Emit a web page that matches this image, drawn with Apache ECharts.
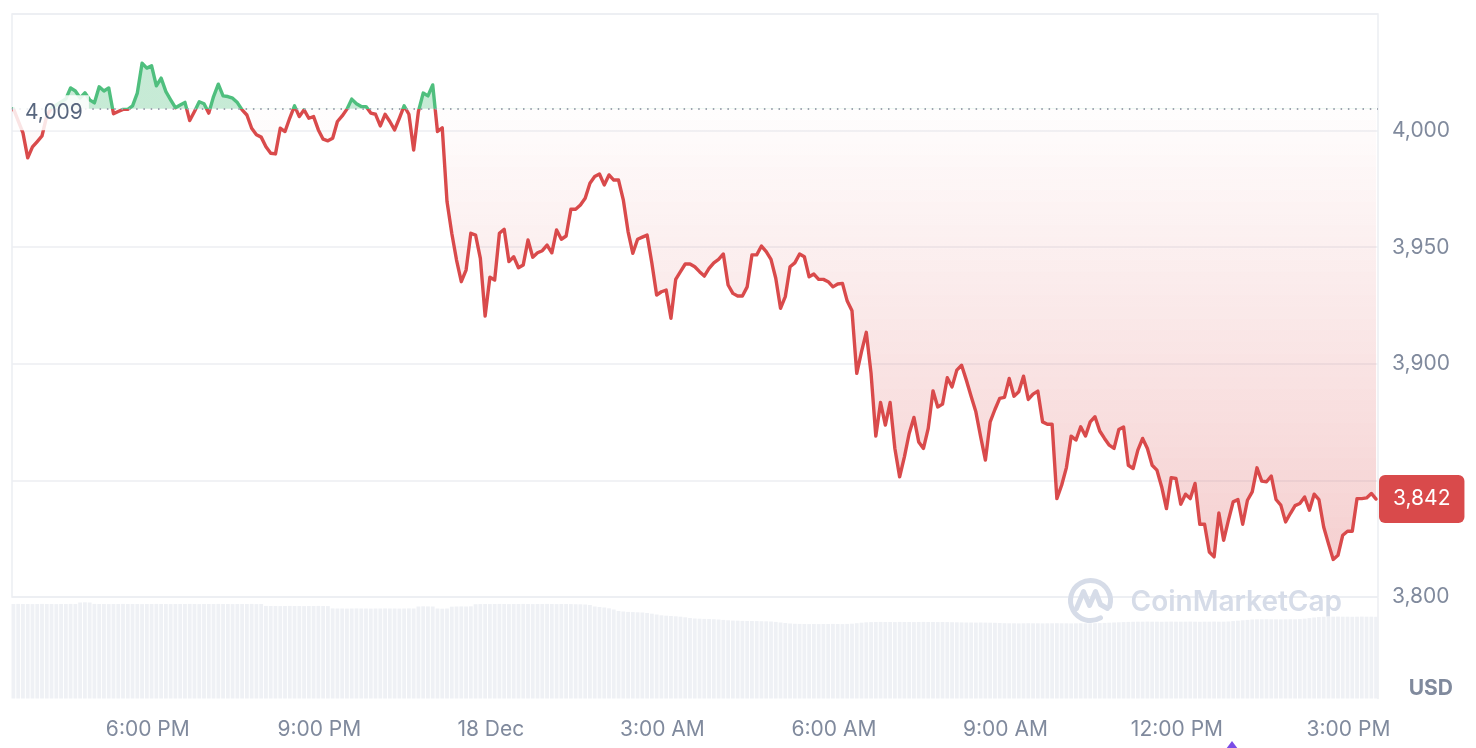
<!DOCTYPE html>
<html>
<head>
<meta charset="utf-8">
<script src="https://cdn.jsdelivr.net/npm/echarts@6/dist/echarts.min.js"></script>
<style>
html,body{margin:0;padding:0;background:#ffffff;}
#chart{width:1476px;height:748px;}
</style>
</head>
<body>
<div id="chart"></div>
<script>
// ---- data ----
// time is counted in minutes from 17 Dec 00:00; first sample at 15:39, every 5 minutes
const startMinute = 15 * 60 + 39;
const stepMinutes = 5;
const startDay = 17;
const monthName = 'Dec';

const prices = [
  4009.4, 4004.2, 3999.0, 3988.3, 3993.0, 3995.3, 3997.7, 4006.3, 4009.7, 4011.0,
  4012.3, 4013.6, 4018.3, 4017.0, 4014.0, 4016.2, 4013.2, 4011.9, 4018.8, 4017.0,
  4018.3, 4007.2, 4008.2, 4009.1, 4009.1, 4010.6, 4016.1, 4028.9, 4026.8, 4027.8,
  4019.2, 4022.5, 4016.7, 4013.2, 4009.8, 4011.0, 4012.1, 4004.3, 4008.2, 4012.4,
  4011.5, 4007.5, 4014.6, 4019.9, 4014.9, 4014.6, 4013.9, 4012.0, 4008.9, 4006.7,
  4001.0, 3998.2, 3997.2, 3993.1, 3990.3, 3990.0, 4001.0, 3999.6, 4005.4, 4010.6,
  4006.0, 4008.9, 4005.3, 4006.0, 4000.3, 3996.3, 3995.6, 3996.7, 4003.9, 4006.3,
  4009.2, 4013.5, 4011.5, 4010.3, 4010.3, 4007.5, 4007.0, 4002.0, 4007.0, 4003.9,
  4000.3, 4005.3, 4010.6, 4007.0, 3991.7, 4008.2, 4016.1, 4014.9, 4019.6, 3999.6,
  4001.2, 3969.6, 3956.0, 3944.5, 3935.2, 3940.2, 3956.0, 3955.2, 3945.2, 3920.5,
  3937.1, 3935.9, 3956.0, 3957.7, 3943.8, 3945.9, 3941.2, 3942.4, 3953.1, 3945.7,
  3947.6, 3948.5, 3950.9, 3947.6, 3957.4, 3953.4, 3954.8, 3966.3, 3966.3, 3968.1,
  3971.0, 3977.4, 3980.3, 3981.4, 3976.7, 3981.0, 3978.8, 3978.8, 3970.3, 3956.7,
  3947.4, 3953.4, 3954.3, 3955.2, 3943.1, 3929.5, 3930.9, 3931.6, 3919.5, 3936.2,
  3939.5, 3942.8, 3942.8, 3941.6, 3939.5, 3937.6, 3940.9, 3943.3, 3944.8, 3947.1,
  3933.8, 3930.2, 3929.1, 3929.1, 3933.0, 3946.7, 3946.7, 3950.5, 3948.1, 3944.8,
  3936.7, 3923.8, 3928.8, 3941.6, 3943.3, 3947.1, 3945.9, 3937.3, 3938.5, 3936.2,
  3936.2, 3935.2, 3933.0, 3934.2, 3934.5, 3926.9, 3922.7, 3895.9, 3905.2, 3913.5,
  3895.9, 3869.0, 3883.4, 3873.7, 3883.4, 3863.7, 3851.5, 3860.1, 3870.1, 3877.0,
  3866.5, 3863.7, 3872.3, 3888.4, 3881.5, 3882.7, 3894.0, 3890.1, 3897.3, 3899.4,
  3893.0, 3886.1, 3879.4, 3868.7, 3858.7, 3875.1, 3880.4, 3885.2, 3885.6, 3893.7,
  3886.1, 3888.0, 3894.7, 3884.7, 3887.0, 3888.3, 3875.1, 3874.1, 3874.1, 3842.2,
  3847.9, 3855.5, 3869.0, 3867.3, 3873.0, 3869.0, 3875.1, 3877.3, 3871.2, 3868.0,
  3865.1, 3863.7, 3871.8, 3872.9, 3856.5, 3855.1, 3863.0, 3868.0, 3863.7, 3856.5,
  3854.4, 3847.2, 3837.9, 3851.2, 3850.8, 3839.8, 3844.1, 3842.2, 3848.7, 3831.2,
  3831.2, 3819.3, 3817.2, 3836.0, 3824.3, 3832.9, 3840.8, 3841.8, 3831.2, 3841.5,
  3845.1, 3855.4, 3849.7, 3849.4, 3851.9, 3841.8, 3839.4, 3832.2, 3835.8, 3839.2,
  3840.1, 3842.9, 3837.2, 3844.1, 3841.8, 3830.0, 3822.9, 3816.1, 3817.9, 3826.5,
  3828.2, 3828.2, 3842.2, 3842.2, 3842.5, 3844.4, 3842.0
];

// volume (relative index units, 0-100)
const volumes = [
  94.5, 94.6, 94.5, 94.5, 94.4, 94.5, 94.6, 94.5, 94.5, 94.4, 94.5, 94.5, 94.6, 94.5,
  96.0, 96.2, 96.0,
  94.6, 94.5, 94.5, 94.4, 94.5, 94.5, 94.6, 94.5, 94.5, 94.5, 94.4, 94.5,
  94.5, 94.6, 94.5, 94.5, 94.4, 94.5, 94.5, 94.5, 94.6, 94.5, 94.4, 94.5,
  94.5, 94.5, 94.6, 94.5, 94.5, 94.4, 94.5, 94.5, 94.5, 94.6, 94.4, 94.5,
  92.6, 92.5, 92.5, 92.4, 92.5, 92.6, 92.5, 92.5, 92.4, 92.5, 92.5, 92.6, 92.5, 92.4,
  90.1, 90.0, 90.0, 89.9, 90.0, 90.1, 90.0, 90.0, 89.9, 90.0, 90.0, 90.1, 90.0, 90.0, 89.9, 90.0, 90.1, 90.0,
  92.0, 92.2, 92.1, 92.0,
  90.0, 89.8, 90.0,
  91.8, 92.0, 92.1, 92.0, 92.2,
  94.3, 94.4, 94.5, 94.4, 94.5, 94.6, 94.5, 94.4, 94.5, 94.5,
  94.6, 94.5, 94.4, 94.5, 94.5, 94.6, 94.5, 94.4, 94.5, 94.5,
  94.4, 94.3, 94.2, 94.0, 93.5,
  92.0, 91.5, 91.0, 90.2, 89.0,
  87.5, 87.0, 86.6, 86.4, 86.2, 86.0, 85.5, 84.8, 84.0,
  83.2, 82.8, 82.5, 82.2, 81.8, 81.2, 80.5,
  80.0, 79.8, 79.6, 79.5, 79.3, 79.0, 78.6, 78.2,
  77.9, 77.8, 77.6, 77.5, 77.5, 77.4, 77.3, 77.2, 77.0, 76.6, 76.0, 75.5, 75.0,
  74.7, 74.6, 74.5, 74.4, 74.5, 74.4, 74.5, 74.5, 74.6, 74.5, 74.4, 74.6, 74.8, 75.3, 75.8, 76.2,
  76.4, 76.5, 76.6, 76.5, 76.5, 76.4, 76.6, 76.5, 76.5, 76.4,
  76.5, 76.6, 76.5, 76.5, 76.4, 76.5, 76.4, 76.3, 76.2,
  76.1, 76.0, 76.0, 75.9, 76.0, 75.9, 75.8, 75.7, 75.5,
  75.3, 75.2, 75.2, 75.1, 75.2, 75.3, 75.2, 75.2, 75.1, 75.2,
  75.2, 75.3, 75.2, 75.2, 75.1, 75.2, 75.3, 75.2, 75.2, 75.3,
  75.4, 75.6, 75.8, 76.0, 76.2, 76.4,
  76.6, 76.7, 76.8, 76.8, 76.9, 76.8, 76.8, 76.7, 76.8, 76.9,
  76.8, 76.8, 76.8, 76.9, 76.8, 76.7, 76.8, 76.8, 76.9, 76.8,
  76.8, 77.0, 77.4, 77.8, 78.2, 78.6,
  79.0, 79.2, 79.2, 79.3, 79.2, 79.2, 79.1, 79.2, 79.3, 79.2, 79.4, 79.8, 80.4, 81.0,
  81.5, 81.7, 81.8, 81.8, 81.9, 81.8, 81.8, 81.7, 81.8, 81.9, 81.8, 81.8, 81.7
];

const priceTicks = [3800, 3850, 3900, 3950, 4000, 4050];
const labelEveryMinutes = 180;     // x labels every 3 hours
const tickStepMinutes = 7.5;       // fine tick grid so that axis min is a multiple of it
const currencyLabel = 'USD';
const watermarkText = 'CoinMarketCap';

// ---- derived ----
const minutes = prices.map((_, i) => startMinute + i * stepMinutes);
const priceData = minutes.map((m, i) => [m, prices[i]]);
const volData = minutes.map((m, i) => [m, volumes[i]]);
const baseline = prices[0];
const lastPrice = prices[prices.length - 1];
const xMin = minutes[0] - 1.5;                      // 937.5 = 125 * 7.5
const xMax = minutes[minutes.length - 1] + 2;

const RED = '#d94a4b';
const GREEN = '#4fbf7e';
const AXIS_TXT = '#808a9d';
const GRID_LINE = '#eceef2';
const WM = '#d6dce8';
const fmt = v => Math.round(v).toLocaleString('en-US');
// axis labels that would sit under the current-price tag are hidden
const fmtPriceAxis = v => (Math.abs(v - lastPrice) < 12 ? '' : fmt(v));
const fmtTime = function (v) {
  const r = v % labelEveryMinutes;
  if (Math.abs(r) > 0.01 && Math.abs(r - labelEveryMinutes) > 0.01) return '';
  const m = Math.round(v);
  const h = Math.floor(m / 60) % 24;
  if (h === 0) return (startDay + Math.floor(m / 1440)) + ' ' + monthName;
  const h12 = h % 12 || 12;
  return h12 + ':00 ' + (h < 12 ? 'AM' : 'PM');
};

// area colouring: green above baseline, red gradient (darker further below baseline)
const lowest = Math.min.apply(null, prices);
const span = baseline - lowest;
const areaPieces = [{ gt: baseline, lte: baseline + 500, color: 'rgba(79,191,126,0.32)' }];
for (let k = 0; k < 50; k++) {
  const hi = baseline - 5 * k;
  const lo = k < 49 ? hi - 5 : baseline - 1000;
  const mid = hi - 2.5;
  const a = 0.01 + 0.25 * Math.min(1, (baseline - mid) / span);
  areaPieces.push({ gt: lo, lte: hi, color: 'rgba(217,74,75,' + a.toFixed(3) + ')' });
}
const linePieces = [
  { gt: baseline, lte: baseline + 500, color: GREEN },
  { gt: baseline - 1000, lte: baseline, color: RED }
];

const chart = echarts.init(document.getElementById('chart'), null, { renderer: 'canvas' });

const option = {
  animation: false,
  backgroundColor: '#ffffff',
  textStyle: { fontFamily: 'Inter, Roboto, sans-serif' },
  grid: [
    { left: 12, right: 98, top: 14, bottom: 151, show: true, borderColor: GRID_LINE, borderWidth: 1.5, backgroundColor: 'transparent' },
    { left: 12, right: 98, top: 598.5, bottom: 49.5 }
  ],
  xAxis: [
    { type: 'value', gridIndex: 0, min: xMin, max: xMax, interval: tickStepMinutes, show: false, splitLine: { show: false } },
    {
      type: 'value', gridIndex: 1, min: xMin, max: xMax, interval: tickStepMinutes,
      axisLine: { show: false }, axisTick: { show: false }, splitLine: { show: false },
      axisLabel: {
        color: AXIS_TXT, fontSize: 21, margin: 21, fontFamily: 'Inter',
        hideOverlap: false, formatter: fmtTime
      }
    }
  ],
  yAxis: [
    {
      type: 'value', gridIndex: 0, position: 'right',
      min: priceTicks[0], max: priceTicks[priceTicks.length - 1], interval: priceTicks[1] - priceTicks[0],
      axisLine: { show: false }, axisTick: { show: false },
      splitLine: { show: true, lineStyle: { color: GRID_LINE, width: 1.5 } },
      axisLabel: { color: AXIS_TXT, fontSize: 21, margin: 14, fontFamily: 'Inter', showMaxLabel: false, formatter: fmtPriceAxis }
    },
    {
      type: 'value', gridIndex: 1, position: 'right', min: 0, max: 100,
      axisLine: { show: true, lineStyle: { color: GRID_LINE, width: 1.5 } },
      axisTick: { show: false }, axisLabel: { show: false }, splitLine: { show: false }
    }
  ],
  visualMap: [
    { type: 'piecewise', show: false, seriesIndex: 1, dimension: 1, pieces: areaPieces },
    { type: 'piecewise', show: false, seriesIndex: 2, dimension: 1, pieces: linePieces }
  ],
  series: [
    {
      name: 'Volume', type: 'bar', xAxisIndex: 1, yAxisIndex: 1, data: volData,
      barWidth: 3.8, itemStyle: { color: '#eff1f5' }, silent: true, z: 1
    },
    {
      name: 'Area', type: 'line', xAxisIndex: 0, yAxisIndex: 0, data: priceData,
      symbol: 'none', lineStyle: { opacity: 0 }, areaStyle: { origin: baseline, opacity: 1 },
      silent: true, z: 2,
      markLine: {
        symbol: ['none', 'none'], silent: true, animation: false,
        label: { show: false },
        data: [{ yAxis: baseline, lineStyle: { color: '#9ea5b1', type: [1.5, 5.8], width: 1.8, opacity: 1 } }]
      }
    },
    {
      name: 'Price', type: 'line', xAxisIndex: 0, yAxisIndex: 0, data: priceData,
      symbol: 'none', lineStyle: { width: 3.4, join: 'round', cap: 'round' }, z: 3
    }
  ]
};

chart.setOption(option);

// labels anchored through the chart's own scales
const yBase = chart.convertToPixel({ yAxisIndex: 0 }, baseline);
const yLast = chart.convertToPixel({ yAxisIndex: 0 }, lastPrice);
const xLeft = chart.convertToPixel({ xAxisIndex: 0 }, xMin);
const xRight = chart.convertToPixel({ xAxisIndex: 0 }, xMax);

chart.setOption({
  graphic: [
    {
      type: 'text', z: 100, silent: true, x: xLeft + 1, y: yBase + 4,
      style: {
        text: fmt(baseline), font: '21px Inter', fill: '#58667e',
        backgroundColor: 'rgba(255,255,255,0.85)', padding: [7, 6, 7, 12],
        align: 'left', verticalAlign: 'middle'
      }
    },
    {
      type: 'text', z: 100, silent: true, x: xRight + 1, y: yLast,
      style: {
        text: fmt(lastPrice), font: '21px Inter', fill: '#ffffff',
        backgroundColor: RED, padding: [14, 14, 13, 14], borderRadius: 6,
        align: 'left', verticalAlign: 'middle'
      }
    },
    {
      type: 'text', right: 23, top: 678, z: 10,
      style: { text: currencyLabel, font: 'bold 21px Inter', fill: AXIS_TXT }
    },
    {
      type: 'group', left: 1068, top: 578, z: 10, silent: true,
      children: [
        { type: 'arc', shape: { cx: 23, cy: 23, r: 20, startAngle: 1.05, endAngle: Math.PI * 2 + 0.3, clockwise: true },
          style: { stroke: WM, lineWidth: 5, fill: null, lineCap: 'round' } },
        { type: 'polyline', shape: { points: [[9, 31], [16, 14], [22, 28], [28, 14], [33, 27], [40, 31]] },
          style: { stroke: WM, lineWidth: 5, fill: null, lineJoin: 'round', lineCap: 'round' } },
        { type: 'text', x: 63, y: 25,
          style: { text: watermarkText, font: '600 28px Inter', fill: WM, verticalAlign: 'middle' } }
      ]
    },
    {
      type: 'polygon', z: 10, silent: true,
      shape: { points: [[1226, 749], [1232, 741], [1238, 749]] },
      style: { fill: '#7b4ce6' }
    }
  ]
});
</script>
</body>
</html>
